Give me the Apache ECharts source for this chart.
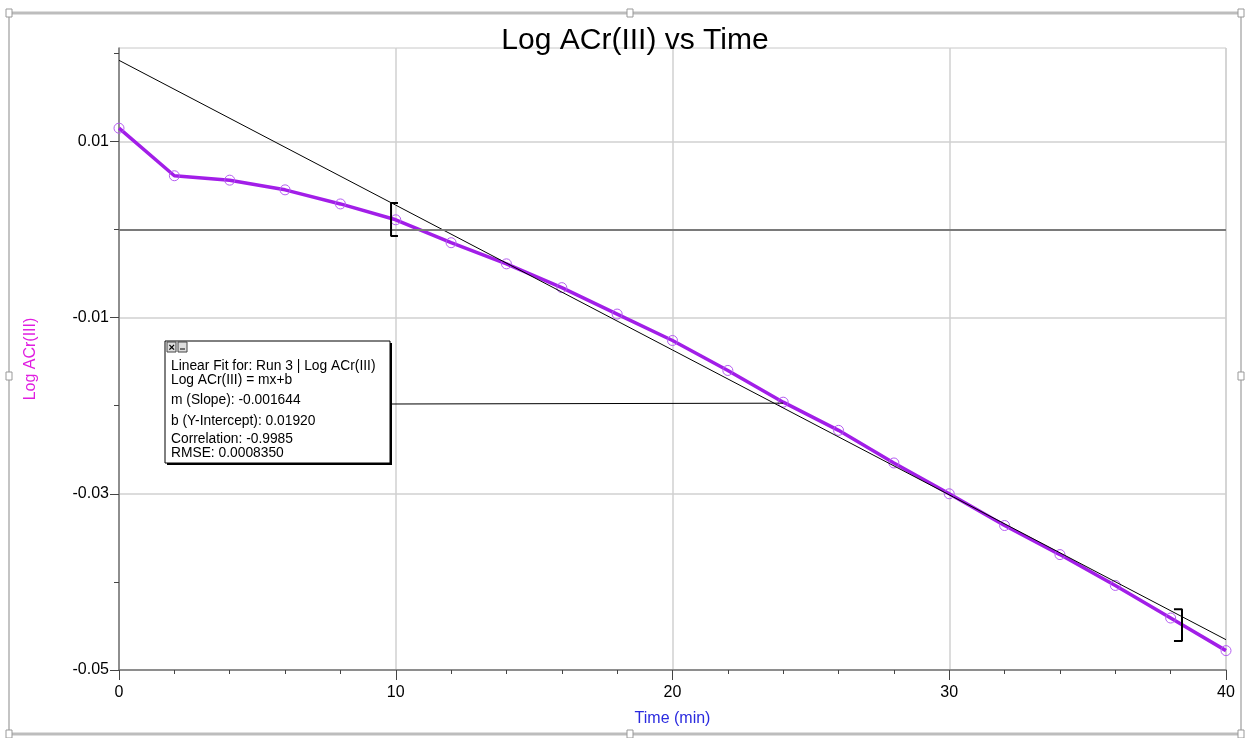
<!DOCTYPE html>
<html><head><meta charset="utf-8">
<script src="https://cdn.jsdelivr.net/npm/echarts@6/dist/echarts.min.js"></script>
<style>html,body{margin:0;padding:0;background:#fff}#c{width:1247px;height:738px}</style>
</head><body><div id="c"></div>
<script>
const timeMin = [0,2,4,6,8,10,12,14,16,18,20,22,24,26,28,30,32,34,36,38,40];
const logACr = [0.0115,0.0061,0.0056,0.0045,0.0029,0.0011,-0.0015,-0.0039,-0.0066,-0.0096,-0.0126,-0.0160,-0.0196,-0.0228,-0.0265,-0.0300,-0.0336,-0.0369,-0.0404,-0.0441,-0.0478];
const fitX = [0, 40];
const fitY = [0.01920, -0.04656];
const yTickValues = [-0.05,-0.03,-0.01,0.01];
const yMinorValues = [-0.04,-0.02,0,0.02];
const bracketLeft = [[10.08,0.0030],[9.83,0.0030],[9.83,-0.00074],[10.08,-0.00074]];
const bracketRight = [[38.12,-0.0431],[38.41,-0.0431],[38.41,-0.0467],[38.12,-0.0467]];
const fitLines = ["Linear Fit for: Run 3 | Log ACr(III)","Log ACr(III) = mx+b","m (Slope): -0.001644","b (Y-Intercept): 0.01920","Correlation: -0.9985","RMSE: 0.0008350"];
const anchorT = 24;

const chart = echarts.init(document.getElementById('c'), null, {renderer:'canvas'});
const F = 'Liberation Sans, Arial, sans-serif';
const option = {
  animation:false,
  title:{text:'Log ACr(III) vs Time', left:630, top:21, textAlign:'center',
    textStyle:{fontFamily:F, fontSize:30, fontWeight:'normal', color:'#000'}},
  grid:{left:119, right:21, top:48, bottom:68, show:true, borderColor:'#c8c8c8', borderWidth:1},
  xAxis:{type:'value', min:0, max:40, interval:10,
    name:'Time (min)', nameLocation:'middle', nameGap:41,
    nameTextStyle:{fontFamily:F, fontSize:16, color:'#2a2adf'},
    axisLine:{onZero:false, lineStyle:{color:'#777', width:1.5}},
    axisTick:{show:true, length:10, inside:false, lineStyle:{color:'#444'}},
    minorTick:{show:true, splitNumber:5, length:4, lineStyle:{color:'#444'}},
    axisLabel:{fontFamily:F, fontSize:16, color:'#000', margin:15},
    splitLine:{show:true, lineStyle:{color:'#d0d0d0', width:1.5}}},
  yAxis:[{type:'value', min:-0.05, max:0.0206, interval:0.02,
    name:'Log ACr(III)', nameLocation:'middle', nameGap:80, nameRotate:90,
    nameTextStyle:{fontFamily:F, fontSize:16, color:'#e01ee0'},
    axisLine:{onZero:false, lineStyle:{color:'#777', width:1.5}},
    axisTick:{show:true, length:9, customValues:yTickValues, lineStyle:{color:'#444'}},
    minorTick:{show:false},
    axisLabel:{fontFamily:F, fontSize:16, color:'#000', margin:10, customValues:yTickValues,
      formatter:v=>String(Math.round(v*100)/100)},
    splitLine:{show:true, lineStyle:{color:'#d0d0d0', width:1.5}}},
   {type:'value', min:-0.05, max:0.0206, position:'left', offset:0,
    axisLine:{show:false}, splitLine:{show:false},
    axisTick:{show:true, length:5, customValues:yMinorValues, lineStyle:{color:'#444'}},
    axisLabel:{show:false, customValues:yMinorValues}}],
  series:[
    {type:'line', data:timeMin.map((t,i)=>[t,logACr[i]]), symbol:'circle', symbolSize:10,
      showSymbol:true,
      itemStyle:{color:'rgba(0,0,0,0)', borderColor:'#b45cf0', borderWidth:1},
      lineStyle:{color:'#a21ee8', width:3.5}, z:3,
      markLine:{silent:true, symbol:'none', label:{show:false},
        lineStyle:{color:'#7a7a7a', width:2, type:'solid'}, data:[{yAxis:0}]}},
    {type:'line', data:fitX.map((t,i)=>[t,fitY[i]]), symbol:'none',
      lineStyle:{color:'#000', width:1}, z:4},
    {type:'line', data:bracketLeft, symbol:'none', lineStyle:{color:'#000', width:2}, z:5},
    {type:'line', data:bracketRight, symbol:'none', lineStyle:{color:'#000', width:2}, z:5}
  ]
};
chart.setOption(option);

const ai = timeMin.indexOf(anchorT);
const ap = chart.convertToPixel({xAxisIndex:0,yAxisIndex:0},[anchorT, logACr[ai]]);
const bx=165, by=341, bw=225, bh=122;
const handle = (x,y)=>({type:'rect', shape:{x:x-3,y:y-4,width:6,height:8}, style:{fill:'#fff', stroke:'#999', lineWidth:1}, z:20});
const g = [
  {type:'line', shape:{x1:9,y1:13,x2:1241,y2:13}, style:{stroke:'#bdbdbd', lineWidth:3}, z:10},
  {type:'line', shape:{x1:9,y1:13,x2:9,y2:734}, style:{stroke:'#c4c4c4', lineWidth:2}, z:10},
  {type:'line', shape:{x1:1241,y1:13,x2:1241,y2:734}, style:{stroke:'#c4c4c4', lineWidth:2}, z:10},
  {type:'line', shape:{x1:9,y1:734,x2:1241,y2:734}, style:{stroke:'#bdbdbd', lineWidth:3}, z:10},
  handle(9,13), handle(630,13), handle(1241,13), handle(9,376), handle(1241,376), handle(9,734), handle(630,734), handle(1241,734),
  {type:'polyline', shape:{points:[[bx+bw,by+63],[ap[0],ap[1]+1]]}, style:{stroke:'#000', lineWidth:1, fill:null}, z:20},
  {type:'rect', shape:{x:bx+2,y:by+2,width:bw,height:bh}, style:{fill:'#000'}, z:21},
  {type:'rect', shape:{x:bx,y:by,width:bw,height:bh}, style:{fill:'#fff', stroke:'#000', lineWidth:1}, z:22},
  {type:'rect', shape:{x:bx+2,y:by+1,width:9,height:10}, style:{fill:'#ddd', stroke:'#444', lineWidth:1}, z:23},
  {type:'text', style:{x:bx+3.5,y:by+1, text:'×', fontFamily:F, fontSize:11, fontWeight:'bold', fill:'#000'}, z:24},
  {type:'rect', shape:{x:bx+13,y:by+1,width:9,height:10}, style:{fill:'#ddd', stroke:'#444', lineWidth:1}, z:23},
  {type:'line', shape:{x1:bx+15,y1:by+8,x2:bx+20,y2:by+8}, style:{stroke:'#000', lineWidth:1}, z:24}
];
const ty=[25,39,59,80,98,112];
fitLines.forEach((s,i)=>g.push({type:'text', style:{x:bx+6, y:by+ty[i], text:s, fontFamily:F, fontSize:13.8, fill:'#000', textVerticalAlign:'middle'}, z:24}));
chart.setOption({graphic:g});
</script></body></html>
